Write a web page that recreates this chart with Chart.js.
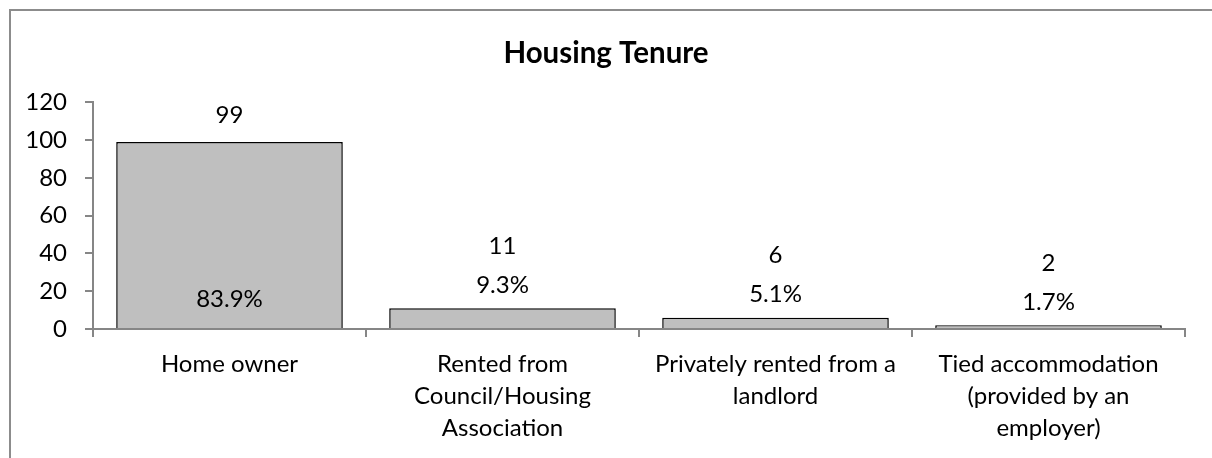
<!DOCTYPE html>
<html>
<head>
<meta charset="utf-8">
<script src="https://cdn.jsdelivr.net/npm/chart.js@4.4.1/dist/chart.umd.min.js"></script>
<style>
  html, body { margin: 0; padding: 0; background: #fff; }
  #wrap { width: 1212px; height: 458px; position: relative; }
</style>
</head>
<body>
<div id="wrap"><canvas id="c" width="1212" height="458"></canvas></div>
<script>
const categories = [
  ['Home owner'],
  ['Rented from', 'Council/Housing', 'Association'],
  ['Privately rented from a', 'landlord'],
  ['Tied accommodation', '(provided by an', 'employer)']
];
const counts = [99, 11, 6, 2];
const pctLabels = ['83.9%', '9.3%', '5.1%', '1.7%'];
const yTicks = { min: 0, max: 120, step: 20 };

const FONT = 'Lato';
const AXIS_GRAY = '#868686';

const frame = {
  id: 'frame',
  beforeDraw(chart) {
    const ctx = chart.ctx;
    ctx.save();
    ctx.fillStyle = '#fff';
    ctx.fillRect(0, 0, chart.width, chart.height);
    ctx.strokeStyle = '#8c8c8c';
    ctx.lineWidth = 2;
    ctx.beginPath();
    ctx.moveTo(10, chart.height + 5);
    ctx.lineTo(10, 10);
    ctx.lineTo(chart.width + 5, 10);
    ctx.stroke();
    ctx.restore();
  }
};

const labelsPlugin = {
  id: 'barLabels',
  afterDatasetsDraw(chart) {
    const ctx = chart.ctx;
    const meta = chart.getDatasetMeta(0);
    const base = chart.scales.y.getPixelForValue(0);
    ctx.save();
    ctx.font = '24px ' + FONT;
    ctx.fillStyle = '#000';
    ctx.textAlign = 'center';
    ctx.textBaseline = 'middle';
    meta.data.forEach((bar, i) => {
      const top = bar.y;
      const h = base - top;
      if (h > 80) {
        ctx.fillText(String(counts[i]), bar.x, top - 27);
        ctx.fillText(pctLabels[i], bar.x, base - 30);
      } else {
        ctx.fillText(String(counts[i]), bar.x, top - 62);
        ctx.fillText(pctLabels[i], bar.x, top - 23);
      }
    });
    ctx.restore();
  }
};

new Chart(document.getElementById('c'), {
  type: 'bar',
  data: {
    labels: categories,
    datasets: [{
      data: counts,
      backgroundColor: '#bfbfbf',
      borderColor: '#000',
      borderWidth: 1.5,
      barPercentage: 0.83,
      categoryPercentage: 1.0
    }]
  },
  options: {
    responsive: false,
    animation: false,
    layout: { padding: { left: 0, right: 0, top: 0, bottom: 0 } },
    plugins: {
      legend: { display: false },
      tooltip: { enabled: false },
      title: {
        display: true,
        text: 'Housing Tenure',
        color: '#000',
        font: { family: FONT, size: 29.5, weight: 'bold' },
        padding: { top: 36, bottom: 31 }
      }
    },
    scales: {
      x: {
        grid: { display: true, drawOnChartArea: false, drawTicks: true, tickLength: 8, color: AXIS_GRAY, lineWidth: 2, offset: true },
        border: { color: AXIS_GRAY, width: 2 },
        ticks: {
          color: '#000', autoSkip: false, maxRotation: 0, minRotation: 0, padding: 11,
          font: { family: FONT, size: 24, lineHeight: 1.333 }
        },
        afterFit(scale) { scale.height = 129; }
      },
      y: {
        min: yTicks.min, max: yTicks.max,
        grid: { display: true, drawOnChartArea: false, drawTicks: true, tickLength: 8, color: AXIS_GRAY, lineWidth: 2 },
        border: { color: AXIS_GRAY, width: 2 },
        ticks: {
          stepSize: yTicks.step, color: '#000', padding: 18,
          font: { family: FONT, size: 24 }
        },
        afterFit(scale) { scale.width = 93; }
      },
      yRight: {
        position: 'right',
        display: true,
        grid: { display: false, drawTicks: false },
        border: { display: false },
        ticks: { display: false },
        afterFit(scale) { scale.width = 27; }
      }
    }
  },
  plugins: [frame, labelsPlugin]
});
</script>
</body>
</html>
